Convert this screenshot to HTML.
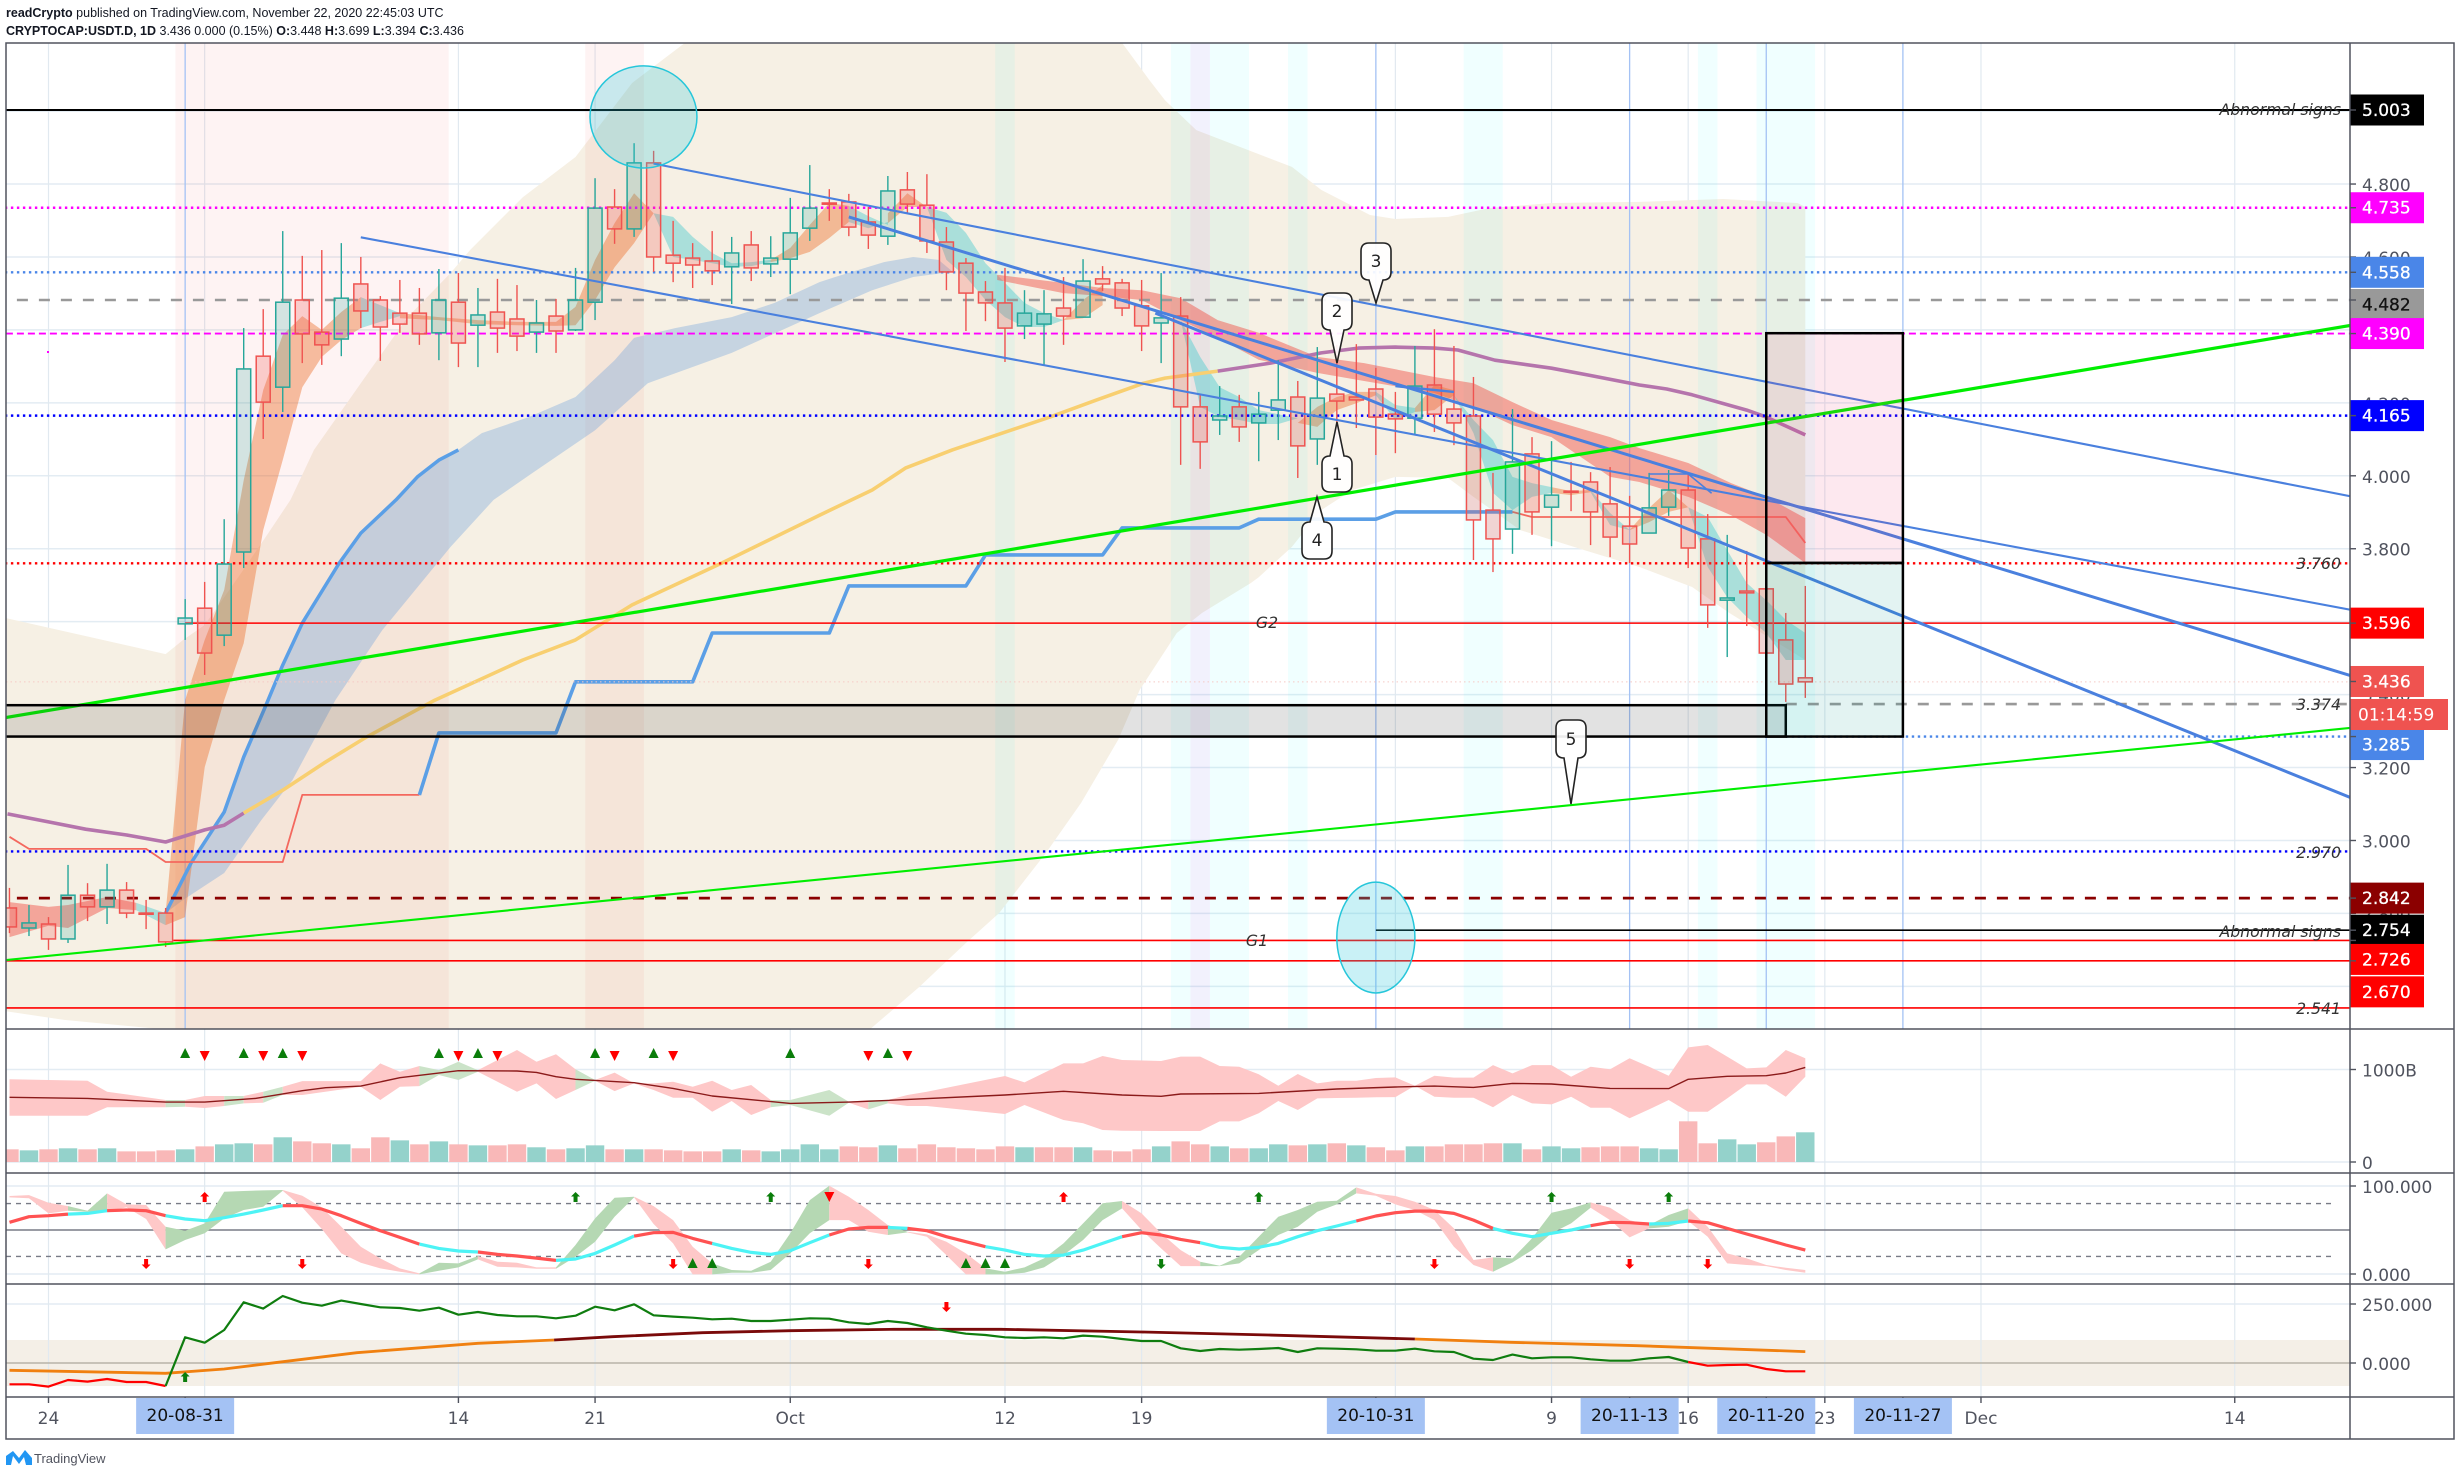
<!DOCTYPE html>
<html lang="en">
<head>
<meta charset="utf-8">
<title>CRYPTOCAP:USDT.D 1D chart</title>
<style>
html,body{margin:0;padding:0;background:#fff;width:2460px;height:1476px;overflow:hidden}
svg{display:block}
.ax{font-family:"DejaVu Sans",sans-serif;font-size:17px;fill:#50535e}
.note{font-family:"DejaVu Sans",sans-serif;font-size:15.7px;font-style:oblique;fill:#333}
.hd{font-family:"Liberation Sans",sans-serif;font-size:12.5px;fill:#131722}
.hd .b{font-weight:bold}
.bal{font-family:"DejaVu Sans",sans-serif;font-size:17px;fill:#222;text-anchor:middle}
</style>
</head>
<body>
<svg id="chart" xmlns="http://www.w3.org/2000/svg" width="2460" height="1476" viewBox="0 0 2460 1476">
<defs>
<clipPath id="clip-main"><rect x="6" y="43" width="2344" height="986"/></clipPath>
<clipPath id="clip-vol"><rect x="6" y="1030" width="2344" height="143"/></clipPath>
<clipPath id="clip-osc"><rect x="6" y="1174" width="2344" height="110"/></clipPath>
<clipPath id="clip-mom"><rect x="6" y="1285" width="2344" height="112"/></clipPath>
</defs>

<text class="hd" x="6" y="17"><tspan class="b">readCrypto</tspan> published on TradingView.com, November 22, 2020 22:45:03 UTC</text>
<text class="hd" x="6" y="35"><tspan class="b">CRYPTOCAP:USDT.D, 1D</tspan> 3.436 0.000 (0.15%) <tspan class="b">O:</tspan>3.448 <tspan class="b">H:</tspan>3.699 <tspan class="b">L:</tspan>3.394 <tspan class="b">C:</tspan>3.436</text>

<g id="layer-grid"></g>
<g id="layer-main-back" clip-path="url(#clip-main)"></g>
<g id="layer-main-series" clip-path="url(#clip-main)"></g>
<g id="layer-levels" clip-path="url(#clip-main)"></g>
<g id="layer-candles" clip-path="url(#clip-main)"></g>
<g id="layer-draw" clip-path="url(#clip-main)"></g>
<g id="layer-vol" clip-path="url(#clip-vol)"></g>
<g id="layer-osc" clip-path="url(#clip-osc)"></g>
<g id="layer-mom" clip-path="url(#clip-mom)"></g>

<g>
<g><path d="M1330 456 L1337 422 L1344 456 H1344 Q1352 456 1352 464 V484 Q1352 492 1344 492 H1330 Q1322 492 1322 484 V464 Q1322 456 1330 456 Z" fill="#fff" fill-opacity=".92" stroke="#222" stroke-width="1.6"/><text class="bal" x="1337" y="480">1</text></g>
<g><path d="M1330 293 H1344 Q1352 293 1352 301 V322 Q1352 330 1344 330 L1337 363 L1330 330 Q1322 330 1322 322 V301 Q1322 293 1330 293 Z" fill="#fff" fill-opacity=".92" stroke="#222" stroke-width="1.6"/><text class="bal" x="1337" y="317">2</text></g>
<g><path d="M1369 243 H1383 Q1391 243 1391 251 V272 Q1391 280 1383 280 L1376 303 L1369 280 Q1361 280 1361 272 V251 Q1361 243 1369 243 Z" fill="#fff" fill-opacity=".92" stroke="#222" stroke-width="1.6"/><text class="bal" x="1376" y="267">3</text></g>
<g><path d="M1310 522 L1317 497 L1324 522 Q1332 522 1332 530 V551 Q1332 559 1324 559 H1310 Q1302 559 1302 551 V530 Q1302 522 1310 522 Z" fill="#fff" fill-opacity=".92" stroke="#222" stroke-width="1.6"/><text class="bal" x="1317" y="546">4</text></g>
<g><path d="M1564 720 H1578 Q1586 720 1586 728 V750 Q1586 758 1578 758 L1571 804 L1564 758 Q1556 758 1556 750 V728 Q1556 720 1564 720 Z" fill="#fff" fill-opacity=".92" stroke="#222" stroke-width="1.6"/><text class="bal" x="1571" y="745">5</text></g>
</g>

<g>
<text class="note" x="1267" y="628" text-anchor="middle">G2</text>
<text class="note" x="1257" y="946" text-anchor="middle">G1</text>
<text class="note" x="2341" y="115" text-anchor="end">Abnormal signs</text>
<text class="note" x="2341" y="937" text-anchor="end">Abnormal signs</text>
<text class="note" x="2341" y="569" text-anchor="end">3.760</text>
<text class="note" x="2341" y="710" text-anchor="end">3.374</text>
<text class="note" x="2341" y="858" text-anchor="end">2.970</text>
<text class="note" x="2341" y="1014" text-anchor="end">2.541</text>
</g>

<g id="layer-axes"></g>

<g fill="none" stroke="#50535e" stroke-width="1.5">
<rect x="6" y="43" width="2448" height="1396"/>
<line x1="2350" y1="43" x2="2350" y2="1439"/>
<line x1="6" y1="1029" x2="2454" y2="1029"/>
<line x1="6" y1="1173" x2="2454" y2="1173"/>
<line x1="6" y1="1284" x2="2454" y2="1284"/>
<line x1="6" y1="1397" x2="2454" y2="1397"/>
</g>

<g>
<path d="M6 1465 V1456 L13 1451 L19 1458 L25 1450 L32 1458 V1465 H26 L24 1457 L19 1464 L13 1456 L11 1465 Z" fill="#2196f3"/>
<text x="34" y="1463" font-family="'Liberation Sans',sans-serif" font-size="13" fill="#50535e">TradingView</text>
</g>
</svg>

<script>
/* ---------- chart data ---------- */
const firstDay = -2; /* days since 24 Aug 2020 */
const opens = [2.815,2.760,2.771,2.730,2.850,2.818,2.864,2.801,2.801,3.594,3.637,3.563,3.791,4.328,4.243,4.482,4.394,4.375,4.526,4.482,4.446,4.446,4.392,4.476,4.413,4.449,4.430,4.394,4.438,4.400,4.476,4.737,4.677,4.858,4.605,4.597,4.589,4.573,4.633,4.581,4.594,4.679,4.748,4.751,4.696,4.657,4.784,4.742,4.641,4.583,4.504,4.474,4.411,4.416,4.460,4.435,4.540,4.529,4.466,4.419,4.438,4.189,4.153,4.189,4.145,4.180,4.216,4.101,4.224,4.216,4.238,4.169,4.158,4.249,4.183,4.164,3.906,3.854,4.060,3.914,3.958,3.983,3.923,3.862,3.843,3.914,3.961,3.827,3.659,3.684,3.690,3.550,3.446];
const closes = [2.763,2.774,2.730,2.850,2.818,2.864,2.801,2.798,2.722,3.610,3.514,3.758,4.293,4.202,4.476,4.389,4.359,4.487,4.452,4.408,4.416,4.389,4.482,4.364,4.441,4.405,4.383,4.419,4.397,4.482,4.734,4.677,4.858,4.600,4.583,4.578,4.562,4.611,4.570,4.597,4.666,4.734,4.745,4.682,4.660,4.781,4.745,4.644,4.559,4.501,4.474,4.405,4.446,4.444,4.438,4.534,4.526,4.460,4.411,4.433,4.189,4.093,4.164,4.134,4.169,4.208,4.082,4.213,4.205,4.208,4.161,4.156,4.246,4.169,4.145,3.879,3.827,4.038,3.901,3.947,3.956,3.901,3.832,3.813,3.912,3.961,3.802,3.646,3.665,3.679,3.514,3.429,3.435];
const highs = [2.870,2.823,2.790,2.933,2.883,2.936,2.886,2.837,2.815,3.662,3.709,3.881,4.405,4.457,4.671,4.603,4.619,4.638,4.600,4.493,4.537,4.515,4.567,4.556,4.515,4.540,4.523,4.482,4.485,4.570,4.816,4.786,4.912,4.891,4.699,4.638,4.671,4.655,4.671,4.657,4.762,4.852,4.786,4.773,4.737,4.822,4.833,4.827,4.682,4.597,4.534,4.570,4.509,4.509,4.545,4.594,4.575,4.540,4.537,4.556,4.490,4.222,4.246,4.222,4.230,4.317,4.260,4.353,4.359,4.361,4.296,4.230,4.356,4.402,4.356,4.271,4.008,4.183,4.106,4.095,4.038,4.010,4.024,3.945,4.008,4.016,4.010,3.895,3.838,3.794,3.722,3.624,3.698];
const lows = [2.746,2.738,2.700,2.719,2.779,2.771,2.787,2.757,2.708,3.550,3.454,3.533,3.747,4.101,4.175,4.309,4.304,4.328,4.405,4.315,4.392,4.359,4.317,4.298,4.298,4.337,4.342,4.337,4.337,4.397,4.427,4.636,4.655,4.559,4.531,4.515,4.523,4.471,4.534,4.545,4.498,4.644,4.699,4.657,4.622,4.633,4.721,4.611,4.509,4.397,4.424,4.312,4.375,4.304,4.359,4.435,4.507,4.438,4.342,4.309,4.030,4.019,4.112,4.093,4.040,4.098,3.994,4.030,4.098,4.131,4.057,4.062,4.112,4.120,4.084,3.769,3.736,3.786,3.838,3.807,3.903,3.810,3.777,3.761,3.843,3.890,3.747,3.583,3.503,3.588,3.462,3.380,3.391];

const volumes = [137,126,137,148,137,148,115,115,126,137,169,191,202,191,267,223,202,191,148,267,234,191,223,191,180,180,191,159,137,148,180,137,137,137,126,115,115,137,126,115,137,191,137,169,159,180,148,191,159,148,137,169,159,159,159,159,126,115,137,169,223,191,169,148,148,191,180,191,202,180,159,126,169,169,191,191,202,202,137,169,148,159,169,169,148,137,440,202,245,191,213,277,321];
const volumeUp = [0,1,0,1,0,1,0,0,0,1,0,1,1,0,1,0,0,1,0,0,1,0,1,0,1,0,0,1,0,1,1,0,1,0,0,0,0,1,0,1,1,1,1,0,0,1,0,0,0,0,0,0,1,0,0,1,0,0,0,1,0,0,1,0,1,1,0,1,0,1,0,0,1,0,0,0,0,1,0,1,1,0,0,0,1,1,0,0,1,1,0,0,1];

const cloudUpperDays = [-2.2,6,6.9,8,9.8,11.2,12.4,13.6,16,18.4,20.6,21.6,24.3,27,29.9,32.6,55,56.4,57.2,58.8,63.7,65.2,67.7,69,71.7,73.8,77,81.5,85.8,89.6,90];
const cloudUpper = [3.610,3.511,3.550,3.591,3.728,3.838,3.934,4.071,4.254,4.435,4.556,4.619,4.764,4.874,5.077,5.187,5.187,5.085,5.030,4.948,4.847,4.784,4.715,4.704,4.710,4.734,4.748,4.751,4.759,4.748,4.737];
const cloudLowerDays = [-2.2,0.8,5.7,42.1,44.6,47,48.7,51.1,52.9,54.8,55.9,57.8,59.1,61.6,62,63.7,65.2,66.8,69,71.7,73,75.4,78.7,81.5,84.2,86.1,90];
const cloudLower = [2.532,2.508,2.483,2.483,2.598,2.719,2.801,2.966,3.103,3.276,3.413,3.569,3.624,3.706,3.722,3.805,3.906,3.961,3.997,3.994,3.942,3.851,3.796,3.750,3.695,3.624,3.495];

const earlyDays=[-2,0,1,3,4.5], earlyUp=[2.831,2.818,2.823,2.845,2.829], earlyLow=[2.735,2.766,2.760,2.815,2.809];
const tealADays=[4.5,6], tealAUp=[2.829,2.801], tealALow=[2.809,2.768];
const orangeADays=[6,7,8,9,10,11,12,13,14,15,16], orangeAUp=[2.801,3.385,3.550,3.687,3.988,4.235,4.386,4.438,4.400,4.449,4.490], orangeALow=[2.768,2.790,3.201,3.385,3.541,3.851,4.043,4.243,4.326,4.372,4.405];
const tealBDays=[16,17,18], tealBUp=[4.490,4.468,4.446], tealBLow=[4.405,4.422,4.438];
const orangeBDays=[18,20,22,24,26], orangeBUp=[4.446,4.435,4.427,4.422,4.422], orangeBLow=[4.432,4.427,4.416,4.413,4.411];
const orangeCDays=[26,27,28,29,30,31], orangeCUp=[4.422,4.463,4.592,4.693,4.775,4.720], orangeCLow=[4.411,4.413,4.482,4.572,4.638,4.720];
const tealCDays=[31,32,33,34,35,36,37], tealCUp=[4.720,4.710,4.655,4.611,4.583,4.586,4.592], tealCLow=[4.720,4.600,4.592,4.583,4.573,4.575,4.586];
const orangeDDays=[37,38,39,40,41], orangeDUp=[4.592,4.625,4.688,4.748,4.740], orangeDLow=[4.586,4.597,4.614,4.652,4.696];
const tealDDays=[41,42,43], tealDUp=[4.740,4.712,4.688], tealDLow=[4.696,4.679,4.696];
const orangeEDays=[43,44,45], orangeEUp=[4.720,4.775,4.737], orangeELow=[4.693,4.737,4.737];
const tealEDays=[45,46,47,48,49,50,51,52], tealEUp=[4.737,4.721,4.666,4.583,4.529,4.474,4.446,4.427], tealELow=[4.737,4.592,4.545,4.482,4.435,4.408,4.408,4.427];
const orangeFDays=[52,53,54], orangeFUp=[4.427,4.482,4.523], orangeFLow=[4.427,4.432,4.468];
const redDays=[48.6,52,54,56,58,59.9,62,65,67.4,71,73,75,77,80,81.5,84,86.2,88,90];
const redUp=[4.551,4.529,4.515,4.509,4.487,4.427,4.392,4.326,4.309,4.271,4.254,4.202,4.153,4.106,4.076,4.035,3.980,3.942,3.884];
const redLow=[4.537,4.501,4.493,4.482,4.427,4.378,4.318,4.282,4.260,4.227,4.189,4.139,4.106,3.997,3.983,3.942,3.892,3.838,3.761];
const tealFDays=[58,59,60,61,62,63,64], tealFUp=[4.427,4.326,4.243,4.216,4.180,4.169,4.158], tealFLow=[4.427,4.189,4.161,4.153,4.142,4.142,4.158];
const orangeGDays=[64,65,66,67,68], orangeGUp=[4.145,4.189,4.216,4.230,4.230], orangeGLow=[4.145,4.134,4.180,4.199,4.221];
const tealGDays=[68,69,70], tealGUp=[4.230,4.194,4.186], tealGLow=[4.221,4.153,4.175];
const orangeHDays=[70,71,72], orangeHUp=[4.186,4.249,4.235], orangeHLow=[4.175,4.180,4.221];
const tealHDays=[72,73,74,75,76,77], tealHUp=[4.221,4.153,4.098,3.997,3.980,3.969], tealHLow=[4.221,4.117,3.953,3.906,3.942,3.953];
const orangeIDays=[77,78,79], orangeIUp=[3.969,3.958,3.961], orangeILow=[3.953,3.947,3.955];
const tealIDays=[79,80,81], tealIUp=[3.961,3.898,3.851], tealILow=[3.955,3.865,3.851];
const orangeJDays=[81,82,83,84], orangeJUp=[3.851,3.912,3.961,3.914], orangeJLow=[3.851,3.873,3.901,3.914];
const tealJDays=[84,85,86,87,88,89,90], tealJUp=[3.914,3.887,3.796,3.706,3.659,3.605,3.569], tealJLow=[3.914,3.750,3.667,3.613,3.569,3.495,3.495];

const slowUpDays=[6,7.3,9,10,11.1,12,13,14.9,16,17.8,18.9,20,21,22.2,24.6,27,29,30,32.1,35,37.2,39.5,40.3,42.8,44.3,45.6,46.4];
const slowUp=[2.801,2.938,3.078,3.229,3.366,3.481,3.596,3.761,3.843,3.934,3.997,4.043,4.071,4.117,4.161,4.216,4.317,4.378,4.405,4.435,4.474,4.531,4.545,4.586,4.600,4.592,4.556];
const slowLowDays=[6,6.9,9,10.9,12.5,14.7,17.1,20.6,22.8,24.8,28,30.7,35,39.5,42.2,44.3,46.3];
const slowLow=[2.801,2.837,2.911,3.056,3.166,3.385,3.577,3.805,3.934,4.008,4.125,4.254,4.337,4.446,4.509,4.545,4.559];
const maBlueDays=[6,7.3,9,10,11.1,12,13,14.9,16,17.8,18.9,20,21];
const maBlue=[2.801,2.938,3.078,3.229,3.366,3.481,3.596,3.761,3.843,3.934,3.997,4.043,4.071];

const purpleADays=[-2.1,0,1.9,4,6,8,9,10], purpleA=[3.073,3.051,3.031,3.015,2.996,3.029,3.042,3.075];
const yellowDays=[10,12,14.1,16.3,19.8,24.3,27,29.9,34.5,39.5,42.2,43.9,46.3,51.3,53.7,56.1,57.2,59.9];
const yellow=[3.075,3.138,3.212,3.284,3.385,3.495,3.550,3.646,3.761,3.892,3.961,4.021,4.071,4.161,4.208,4.254,4.268,4.287];
const purpleBDays=[59.9,62.6,65.2,67.1,69,71,72.2,74.1,77,78.9,81.5,82.9,84.2,87,88,90];
const purpleB=[4.287,4.309,4.337,4.350,4.353,4.350,4.345,4.317,4.295,4.276,4.249,4.238,4.222,4.180,4.161,4.112];

const baseRedADays=[-2,-1,5,6,12,13,19], baseRedA=[3.010,2.977,2.977,2.941,2.941,3.125,3.125];
const baseBlueDays=[19,20,26,27,33,34,40,41,47,48,54,55,61,62,68,69,75];
const baseBlue=[3.125,3.295,3.295,3.435,3.435,3.569,3.569,3.698,3.698,3.783,3.783,3.857,3.857,3.881,3.881,3.901,3.901];
const baseRedBDays=[75,76,89,90], baseRedB=[3.901,3.887,3.887,3.816];

const levelPrices=[5.003,4.735,4.558,4.482,4.390,4.165,3.760,3.596,3.374,3.285,2.970,2.842,2.754,2.726,2.670,2.541];
const levelStartDays=[-5,-5,-5,-5,-5,-5,-5,7,89,89,-5,-5,68,6.4,-5,-5];

const trendDaysA=[31,118], trendPricesA=[4.856,3.943];
const trendDaysB=[16,118], trendPricesB=[4.654,3.632];
const trendDaysC=[41,118], trendPricesC=[4.710,3.451];
const trendDaysD=[56.7,118], trendPricesD=[4.446,3.116];
const trendDaysE=[69,72], trendPricesE=[4.246,4.230];
const trendDaysF=[82,84,85.2], trendPricesF=[4.005,4.005,3.952];
const greenThickDays=[-2.2,118], greenThick=[3.337,4.413];
const greenThinDays=[-2.2,118], greenThin=[2.672,3.309];

const priceTicks=[4.8,4.6,4.2,4.0,3.8,3.4,3.2,3.0,2.8,2.6];
const gridPrices=[5.0,4.8,4.6,4.4,4.2,4.0,3.8,3.6,3.4,3.2,3.0,2.8,2.6];
const gridDays=[0,8,21,28,38,49,56,69,77,84,91,99,112];
const drawnVerticalDays=[7,68,81,88,95];
const timeTickDays=[0,7,21,28,38,49,56,68,77,81,84,88,91,95,99,112];
const dateLabelDays=[0,21,28,38,49,56,77,84,91,99,112];
const dateLabels=["24","14","21","Oct","12","19","9","16","23","Dec","14"];
const pillDays=[7,68,81,88,95];
const pillLabels=["20-08-31","20-10-31","20-11-13","20-11-20","20-11-27"];
const tagPrices=[5.003,4.735,4.558,4.482,4.390,4.165,3.596,3.436,3.285,2.842,2.754,2.726,2.670];

const bandDays=[-2,2,3,6,7,8,9,10,11,12,13,16,17,18,19,20,21,22,24,25,26,27,28,29,30,31,32,33,34,35,36,37,38,40,41,42,43,44,45,49,50,52,53,54,55,57,58,59,60,61,62,63,64,65,66,67,68,69,70,71,72,73,74,75,76,77,78,79,80,81,82,83,84,85,86,87,88,89,90];
const bandUpper=[894,879,760,670,670,713,713,713,760,814,875,875,1066,976,1038,994,1084,994,1211,1084,1164,1002,886,966,850,850,868,814,879,778,832,670,670,778,652,670,670,724,760,930,861,1066,1066,1146,1103,1092,1139,1139,1038,1030,948,825,951,850,879,879,908,915,825,933,912,912,1048,958,1048,1048,922,1030,1002,1121,1030,933,1239,1265,1139,1012,1023,1211,1121];
const bandLower=[501,501,591,591,598,584,605,634,641,724,724,814,670,814,821,940,886,976,760,850,681,778,879,767,850,778,695,695,544,659,508,591,616,501,641,569,634,605,605,519,616,454,418,346,338,335,335,335,439,439,526,659,562,688,692,695,699,702,825,706,695,695,591,724,634,623,706,587,587,472,569,670,544,544,688,839,839,706,922];
const bandFlips=[6,7,9,10,11,12,19,22,27,28,37,41,42,43];
const bandMidDays=[-2,2,6,8,10.6,13,14.2,16,18,21,24,25,26,27,30,32,34,38,41,43,49,52,55,57,58,62,66,69,71,73,75,77,80,83,84,86,88,89,90];
const bandMid=[699,688,648,648,688,771,803,821,911,987,984,969,922,894,857,796,713,634,648,666,724,764,724,710,735,742,789,811,821,807,850,843,796,793,894,926,933,962,1023];
const volGreenMarkDays=[7,10,12,20,22,28,31,38,43];
const volRedMarkDays=[8,11,13,21,23,29,32,42,44];

const oscLine=[58.7,65.1,66.2,68.1,68.9,71.9,72.7,71.9,66.2,62.5,60.6,64,68.1,72.7,77.6,77.6,73.8,66.2,57.5,49.2,41.6,34,29.1,26.1,25,22.3,20.4,18.1,15.5,17,23.4,32.9,43.1,46.9,47.3,40.5,34.8,29.1,24.6,22.3,26.5,35.6,44.3,51.1,53,53,51.8,49.2,42.4,36.7,31,27.2,22.3,20.4,21.5,27.2,34.8,42.4,46.9,44.3,39.3,35.6,30.3,28.4,30.3,34.8,42.4,49.2,54.5,60.2,65.9,69.7,71.5,71.5,68.9,61.3,51.8,46.2,42.4,46.2,50,54.9,58.7,58.3,56.8,57.5,60.2,58.3,51.8,45.4,39.3,32.9,27.2];
const oscUpper=[88.6,89.7,81,77.2,71.9,91.6,79.1,78.4,53.7,49.2,57.5,93.5,94.3,95,95.4,89,75.7,53.7,31,17.7,6.4,0.7,12.8,12.1,20.4,14,12.8,7.5,7.5,32.9,63.2,86.7,87.8,77.2,61.3,31,12.1,4.5,3.7,14,46.2,84,100.3,87.8,72.7,55.6,48.1,45,36.7,23.4,6.4,2.6,7.5,17.7,34.8,57.5,80.3,82.9,68.9,46.2,27.2,14,9.4,19.6,42.4,65.1,72.7,82.2,83.3,98.4,91.2,88.6,82.2,72.7,51.8,15.9,18.9,17.7,40.5,69.7,74.6,81.4,75.3,61.3,55.6,67,74.6,53.7,23.4,17.7,10.2,7.1,4.5];
const oscLower=[87.1,86,68.9,71.9,70.8,71.5,75.7,62.5,28,38.6,46.2,63.2,72.7,76.5,94.7,75.7,51.1,23.4,12.8,6.4,2.6,-0.4,3.7,7.5,16.6,8.3,7.5,6,6,19.6,36.7,65.1,87.1,56.8,34.8,-0.4,-0.4,1.5,1.5,4.5,23.4,46.2,61.3,61.3,48.1,44.3,47.3,42.4,21.5,-0.4,-0.4,-0.4,1.5,7.5,21.5,38.6,61.3,74.6,50,29.1,9,9,9,12.1,27.2,44.3,53.7,70.8,79.1,91.6,89,79.1,72.7,61.3,31,10.2,2.6,13.2,27.2,46.2,57.5,75.3,61.3,41.6,51.8,53.7,60.2,42.4,12.1,10.2,9,4.5,1.5];
const oscFlips=[1,3,6,12,19,22,26,30,34,40,43,44,48,55,59,67,74,79,82,84];
const oscRedUpArrowDays=[8,52];
const oscGreenUpArrowDays=[27,37,62,77,83];
const oscRedDownArrowDays=[5,13,32,42,71,81,85];
const oscGreenDownArrowDays=[57];
const oscGreenTriangleDays=[33,34,47,48,49];
const oscRedTriangleDays=[40];
const oscGuideValues=[80,50,20];

const momLine=[-90.3,-90.3,-100.2,-72,-79,-67.7,-80.4,-80.4,-97.4,108.8,86.2,139.9,257.1,230.3,283.9,255.7,243,264.2,250.1,235.9,233.1,221.8,234.5,204.8,216.1,203.4,197.8,197.8,189.3,200.6,238.7,223.2,248.6,202,196.4,192.1,185,187.9,178,178,183.6,189.3,187.9,172.4,165.3,178,169.5,151.2,137,124.3,118.7,108.8,106,108.8,104.6,115.9,111.6,101.7,93.3,93.3,62.2,50.9,59.3,56.5,59.3,63.6,46.7,62.2,60.8,58,52.3,52.3,60.8,49.5,46.7,18.4,12.7,35.4,19.8,24,24,15.6,9.9,9.9,19.8,25.5,4.3,-11.3,-8.5,-7.1,-25.4,-35.3,-35.3];
const momFlips=[6,84];
const momSlowDays=[-2,6,9,11.6,15.8,22,25.9,28.9,33.5,38,43.3,48.8,56,62.5,70,74.9,81.4,90];
const momSlow=[-31,-43.7,-25.4,1.4,43.8,83.4,97.5,111.6,128.6,137,142.7,142.7,131.4,118.7,101.7,87.6,73.5,48.1];
const momSlowFlips=[25.9,70];
const momGreenArrowDays=[7];
const momRedArrowDays=[46];

/* ---------- scales ---------- */
const xd = d => 48.5 + 19.52*d;
const yp = p => 110 + (5.003-p)*364.7;
const yv = v => 1162 - 0.0925*v;
const yo = v => 1274 - 0.88*v;
const ym = v => 1363 - 0.236*v;
const $ = id => document.getElementById(id);
const NS = "http://www.w3.org/2000/svg";

function add(parent, tag, name, attrs){
  const el = document.createElementNS(NS, tag);
  
  
  for (const k in attrs) el.setAttribute(k, attrs[k]);
  parent.appendChild(el);
  return el;
}
function pts(days, vals, fy){ return days.map((d,i)=>xd(d).toFixed(1)+','+fy(vals[i]).toFixed(1)); }
function line(parent, name, days, vals, fy, color, w, extra){
  return add(parent,'polyline',name,Object.assign({points:pts(days,vals,fy).join(' '),fill:'none',stroke:color,'stroke-width':w,'stroke-linejoin':'round'},extra||{}));
}
function band(parent, name, dU, U, dL, L, fy, fill){
  const p = pts(dU,U,fy).concat(pts(dL,L,fy).reverse());
  return add(parent,'polygon',name,{points:p.join(' '),fill:fill});
}
function runs(days, flips){
  const cuts=[days[0]].concat(flips,[days[days.length-1]]);
  return cuts.slice(0,-1).map((a,i)=>[a,cuts[i+1],i%2]);
}
function slice(days, vals, a, b){
  const ds=[],vs=[];
  days.forEach((d,i)=>{ if(d>=a-1e-6&&d<=b+1e-6){ds.push(d);vs.push(vals[i]);} });
  return [ds,vs];
}
function tri(parent,name,d,y,up,color){
  const x=xd(d);
  const p = up ? `${x-5},${y+5} ${x},${y-5} ${x+5},${y+5}` : `${x-5},${y-5} ${x+5},${y-5} ${x},${y+5}`;
  return add(parent,'polygon',name,{points:p,fill:color});
}
function arrow(parent,name,d,y,up,color){
  const x=xd(d), s=up?1:-1;
  const p=`${x},${y-5*s} ${x+4.5},${y-0.5*s} ${x+2},${y-0.5*s} ${x+2},${y+5*s} ${x-2},${y+5*s} ${x-2},${y-0.5*s} ${x-4.5},${y-0.5*s}`;
  return add(parent,'polygon',name,{points:p,fill:color});
}

/* ---------- grid ---------- */
const grid=$('layer-grid');
gridPrices.forEach(p=>add(grid,'line','grid-horizontal',{x1:6,x2:2350,y1:yp(p),y2:yp(p),stroke:'#e3ecf3','stroke-width':1.5}));
[1000,0].forEach(v=>add(grid,'line','grid-volume',{x1:6,x2:2350,y1:yv(v),y2:yv(v),stroke:'#e3ecf3','stroke-width':1.5}));
[100,0].forEach(v=>add(grid,'line','grid-oscillator',{x1:6,x2:2350,y1:yo(v),y2:yo(v),stroke:'#e3ecf3','stroke-width':1.5}));
add(grid,'line','grid-momentum',{x1:6,x2:2350,y1:ym(250),y2:ym(250),stroke:'#e3ecf3','stroke-width':1.5});
add(grid,'rect','momentum-neutral-zone',{x:6,y:1340,width:2344,height:46,fill:'#f4efe7'});
gridDays.forEach(d=>add(grid,'line','grid-vertical',{x1:xd(d),x2:xd(d),y1:43,y2:1397,stroke:'#e1e9f0','stroke-width':1.2}));

/* ---------- main background ---------- */
const back=$('layer-main-back');
band(back,'cloud',cloudUpperDays,cloudUpper,cloudLowerDays,cloudLower,yp,'#f6f0e4');
const stripePink='rgba(245,90,80,.07)', stripeCyan='rgba(0,255,255,.06)', stripeLav='rgba(70,60,230,.07)';
function stripe(a,b,fill,name){ add(back,'rect',name,{x:xd(a),y:43,width:xd(b)-xd(a),height:986,fill:fill}); }
stripe(6.5,20.5,stripePink,'stripe-pink');
stripe(27.5,30.5,stripePink,'stripe-pink');
[[48.5,49.5],[57.5,58.5],[59.5,61.5],[63.5,64.5],[72.5,74.5],[84.5,85.5],[87.5,90.5]].forEach(s=>stripe(s[0],s[1],stripeCyan,'stripe-cyan'));
stripe(58.5,59.5,stripeLav,'stripe-lavender');
drawnVerticalDays.forEach(d=>add(back,'line','drawn-vertical-line',{x1:xd(d),x2:xd(d),y1:43,y2:1029,stroke:'#a4c2f4','stroke-width':1.3}));

/* ---------- ribbons and moving averages ---------- */
const ms=$('layer-main-series');
const cOrange='rgba(235,110,40,.42)', cTeal='rgba(64,200,205,.42)', cRed='rgba(240,90,80,.5)';
band(ms,'slow-ribbon',slowUpDays,slowUp,slowLowDays,slowLow,yp,'rgba(110,160,220,.35)');
[[earlyDays,earlyUp,earlyLow,cRed],[tealADays,tealAUp,tealALow,cTeal],[orangeADays,orangeAUp,orangeALow,cOrange],[tealBDays,tealBUp,tealBLow,cTeal],[orangeBDays,orangeBUp,orangeBLow,cOrange],[orangeCDays,orangeCUp,orangeCLow,cOrange],[tealCDays,tealCUp,tealCLow,cTeal],[orangeDDays,orangeDUp,orangeDLow,cOrange],[tealDDays,tealDUp,tealDLow,cTeal],[orangeEDays,orangeEUp,orangeELow,cOrange],[tealEDays,tealEUp,tealELow,cTeal],[orangeFDays,orangeFUp,orangeFLow,cOrange],[redDays,redUp,redLow,cRed],[tealFDays,tealFUp,tealFLow,cTeal],[orangeGDays,orangeGUp,orangeGLow,cOrange],[tealGDays,tealGUp,tealGLow,cTeal],[orangeHDays,orangeHUp,orangeHLow,cOrange],[tealHDays,tealHUp,tealHLow,cTeal],[orangeIDays,orangeIUp,orangeILow,cOrange],[tealIDays,tealIUp,tealILow,cTeal],[orangeJDays,orangeJUp,orangeJLow,cOrange],[tealJDays,tealJUp,tealJLow,cTeal]]
  .forEach(r=>band(ms,'fast-ribbon-segment',r[0],r[1],r[0],r[2],yp,r[3]));
line(ms,'fast-ma-line',maBlueDays,maBlue,yp,'#5b9fe6',3.5);
line(ms,'long-ma-purple',purpleADays,purpleA,yp,'#b574ac',3.6);
line(ms,'long-ma-yellow',yellowDays,yellow,yp,'#f8cf70',3.6);
line(ms,'long-ma-purple',purpleBDays,purpleB,yp,'#b574ac',3.6);
line(ms,'baseline-red',baseRedADays,baseRedA,yp,'#f4685e',1.8);
line(ms,'baseline-blue',baseBlueDays,baseBlue,yp,'#5b9fe6',3.6);
line(ms,'baseline-red',baseRedBDays,baseRedB,yp,'#f4685e',1.8);

/* ---------- price levels ---------- */
const levelStroke=['#000','#ff00ff','#4a86e8','#999','#ff00ff','#0000ff','#ff0000','#ff0000','#999','#4a86e8','#0000ff','#8b0000','#000','#ff0000','#ff0000','#ff0000'];
const levelWidth=[2,2.4,2.4,2.6,1.8,2.4,2.4,1.6,2.6,2.4,2.4,2.8,1.6,1.6,1.6,1.6];
const levelDash=['','2.4 3.6','2.4 3.6','11 11','7 4','2.4 3.6','2.4 3.6','','11 11','2.4 3.6','2.4 3.6','11 11','','','',''];
const lv=$('layer-levels');
levelPrices.forEach((p,i)=>{
  const el=add(lv,'line','price-level-line',{x1:xd(levelStartDays[i]),x2:2350,y1:yp(p),y2:yp(p),stroke:levelStroke[i],'stroke-width':levelWidth[i]});
  if(levelDash[i]) el.setAttribute('stroke-dasharray',levelDash[i]);
});
add(lv,'line','last-price-line',{x1:6,x2:2350,y1:yp(closes[closes.length-1]),y2:yp(closes[closes.length-1]),stroke:'#f5c9c5','stroke-width':1,'stroke-dasharray':'1.5 3'});
add(lv,'rect','stray-marker',{x:47,y:351,width:2,height:2,fill:'#ff00ff'});

/* ---------- candles ---------- */
const cg=$('layer-candles');
opens.forEach((o,i)=>{
  const d=firstDay+i, c=closes[i], up=c>=o;
  const col=up?'#26a69a':'#ef5350', fill=up?'rgba(38,166,154,.2)':'rgba(239,83,80,.25)';
  const x=xd(d), top=yp(Math.max(o,c)), bot=yp(Math.min(o,c));
  add(cg,'line','candle-wick',{x1:x,x2:x,y1:yp(highs[i]),y2:top,stroke:col,'stroke-width':1.4});
  add(cg,'line','candle-wick',{x1:x,x2:x,y1:bot,y2:yp(lows[i]),stroke:col,'stroke-width':1.4});
  add(cg,'rect','candle-body',{x:x-7,y:top,width:14,height:Math.max(bot-top,1.2),fill:fill,stroke:col,'stroke-width':1.5});
});

/* ---------- drawings ---------- */
const dr=$('layer-draw');
const tBlue='#4a80de';
line(dr,'trendline-upper',trendDaysA,trendPricesA,yp,tBlue,2.1);
line(dr,'trendline-lower',trendDaysB,trendPricesB,yp,tBlue,2.1);
line(dr,'trendline-thick-a',trendDaysC,trendPricesC,yp,tBlue,3);
line(dr,'trendline-thick-b',trendDaysD,trendPricesD,yp,tBlue,3);
line(dr,'trendline-short-a',trendDaysE,trendPricesE,yp,tBlue,2.4);
line(dr,'trendline-short-b',trendDaysF,trendPricesF,yp,tBlue,1.6);
line(dr,'support-line-thick',greenThickDays,greenThick,yp,'#00ee00',3.2);
line(dr,'support-line-thin',greenThinDays,greenThin,yp,'#00ee00',2.1);
function box(name,d1,p1,d2,p2,fill){
  add(dr,'rect',name,{x:xd(d1),y:yp(p1),width:xd(d2)-xd(d1),height:yp(p2)-yp(p1),fill:fill,stroke:'#000','stroke-width':2.5});
}
const boxTop=[4.391,3.761], boxBottom=[3.761,3.285];
box('range-box-grey',-5,3.371,89,3.285,'rgba(60,60,60,.15)');
box('risk-box-pink',88,boxTop[0],95,boxBottom[0],'rgba(233,30,99,.1)');
box('reward-box-teal',88,boxTop[1],95,boxBottom[1],'rgba(0,150,136,.11)');
function oval(name,d,p,rd,rp){
  add(dr,'ellipse',name,{cx:xd(d),cy:yp(p),rx:rd*19.52,ry:rp*364.7,fill:'rgba(38,198,218,.25)',stroke:'#26c6da','stroke-width':1.5});
}
oval('highlight-ellipse-top',30.48,4.984,2.74,0.14);
oval('highlight-ellipse-bottom',68,2.734,2,0.152);

/* ---------- volume pane ---------- */
const vg=$('layer-vol');
const bandColors=['#fec8c8','#cbe3c8'];
volumes.forEach((v,i)=>{
  const x=xd(firstDay+i);
  add(vg,'rect','volume-bar',{x:x-9.2,y:yv(v),width:18.4,height:yv(0)-yv(v),fill:volumeUp[i]?'#94d2cb':'#f9b8b8'});
});
runs(bandDays,bandFlips).forEach(r=>{
  const u=slice(bandDays,bandUpper,r[0],r[1]), l=slice(bandDays,bandLower,r[0],r[1]);
  band(vg,'volume-band-segment',u[0],u[1],l[0],l[1],yv,bandColors[r[2]]);
});
line(vg,'volume-band-midline',bandMidDays,bandMid,yv,'#8b1a1a',1.4);
volGreenMarkDays.forEach(d=>tri(vg,'buy-marker',d,1053,true,'#0a7d0a'));
volRedMarkDays.forEach(d=>tri(vg,'sell-marker',d,1056,false,'#ff0000'));

/* ---------- oscillator pane ---------- */
const og=$('layer-osc');
const allDays=oscLine.map((_,i)=>firstDay+i);
oscGuideValues.forEach((v,i)=>{
  const el=add(og,'line','oscillator-guide',{x1:6,x2:i===1?2350:2335,y1:yo(v),y2:yo(v),stroke:'#787b86','stroke-width':1.4});
  if(i!==1) el.setAttribute('stroke-dasharray','5 5');
});
const oscBandColors=['#fec8c8','#b5d8b3'];
runs(allDays,oscFlips).forEach(r=>{
  const u=slice(allDays,oscUpper,r[0],r[1]), l=slice(allDays,oscLower,r[0],r[1]);
  band(og,'oscillator-band-segment',u[0],u[1],l[0],l[1],yo,oscBandColors[r[2]]);
});
const oscLineColors=['#ff5252','#4df3f5'];
runs(allDays,oscFlips).forEach(r=>{
  const s=slice(allDays,oscLine,r[0],r[1]);
  line(og,'oscillator-line-segment',s[0],s[1],yo,oscLineColors[r[2]],3.2);
});
oscRedUpArrowDays.forEach(d=>arrow(og,'oscillator-arrow-red-up',d,1197,true,'#ff0000'));
oscGreenUpArrowDays.forEach(d=>arrow(og,'oscillator-arrow-green-up',d,1197,true,'#0a7d0a'));
oscRedDownArrowDays.forEach(d=>arrow(og,'oscillator-arrow-red-down',d,1264,false,'#ff0000'));
oscGreenDownArrowDays.forEach(d=>arrow(og,'oscillator-arrow-green-down',d,1264,false,'#0a7d0a'));
oscGreenTriangleDays.forEach(d=>tri(og,'oscillator-triangle-green',d,1263,true,'#0a7d0a'));
oscRedTriangleDays.forEach(d=>tri(og,'oscillator-triangle-red',d,1197,false,'#ff0000'));

/* ---------- momentum pane ---------- */
const mg=$('layer-mom');
add(mg,'line','momentum-zero-line',{x1:6,x2:2350,y1:ym(0),y2:ym(0),stroke:'#b8b4a8','stroke-width':1.4});
const slowColors=['#f08010','#7a0a0a','#f08010'];
runs(momSlowDays,momSlowFlips).forEach((r,i)=>{
  const s=slice(momSlowDays,momSlow,r[0],r[1]);
  line(mg,'momentum-slow-segment',s[0],s[1],ym,slowColors[i],2.8);
});
const momColors=['#ff0000','#0f7d0f','#ff0000'];
runs(allDays,momFlips).forEach((r,i)=>{
  const s=slice(allDays,momLine,r[0],r[1]);
  line(mg,'momentum-line-segment',s[0],s[1],ym,momColors[i],2.2);
});
momGreenArrowDays.forEach(d=>arrow(mg,'momentum-arrow-green',d,1377,true,'#0a7d0a'));
momRedArrowDays.forEach(d=>arrow(mg,'momentum-arrow-red',d,1307,false,'#ff0000'));

/* ---------- axes ---------- */
const ax=$('layer-axes');
function axisText(name,x,y,str,fill,anchor){
  const t=add(ax,'text',name,{x:x,y:y+6,'class':'ax'});
  if(fill) t.setAttribute('style','fill:'+fill);
  if(anchor) t.setAttribute('text-anchor',anchor);
  t.textContent=str;
  return t;
}
function tick(y){ add(ax,'line','price-tick',{x1:2350,x2:2356,y1:y,y2:y,stroke:'#50535e','stroke-width':1.4}); }
priceTicks.forEach(p=>{ tick(yp(p)); axisText('price-tick-label',2362,yp(p)+1,p.toFixed(3)); });
tick(yv(1000)); axisText('volume-tick-label',2362,yv(1000)+1,'1000B');
tick(yv(0)); axisText('volume-tick-label',2362,yv(0)+1,'0');
tick(yo(100)); axisText('oscillator-tick-label',2362,yo(100)+1,'100.000');
tick(yo(0)); axisText('oscillator-tick-label',2362,yo(0)+1,'0.000');
tick(ym(250)); axisText('momentum-tick-label',2362,ym(250)+1,'250.000');
tick(ym(0)); axisText('momentum-tick-label',2362,ym(0)+1,'0.000');

const tagFill=['#000','#ff00ff','#4a86e8','#999','#ff00ff','#0000ff','#ff0000','#ef5350','#4a86e8','#8b0000','#000','#ff0000','#ff0000'];
const tagText=['#fff','#fff','#fff','#111','#fff','#fff','#fff','#fff','#fff','#fff','#fff','#fff','#fff'];
const tagShift=[0,0,0,4.5,0,0,0,0,8,0,0,19,31];
tagPrices.forEach((p,i)=>{
  const y=yp(p)+tagShift[i];
  add(ax,'rect','price-tag',{x:2350,y:y-15.5,width:74,height:31,fill:tagFill[i]});
  const t=axisText('price-tag-label',2362,y,p.toFixed(3),tagText[i]);
  t.setAttribute('stroke',tagText[i]);
  t.setAttribute('stroke-width','.3');
  tick(yp(p));
});
add(ax,'rect','countdown-tag',{x:2350,y:699,width:98,height:31,fill:'#ef5350'});
axisText('countdown-label',2358,714.5,'01:14:59','#fff');

timeTickDays.forEach(d=>add(ax,'line','time-tick',{x1:xd(d),x2:xd(d),y1:1397,y2:1403,stroke:'#50535e','stroke-width':1.4}));
dateLabelDays.forEach((d,i)=>axisText('time-tick-label',xd(d),1418,dateLabels[i],null,'middle'));
pillDays.forEach((d,i)=>{
  add(ax,'rect','time-pill',{x:xd(d)-49,y:1398,width:98,height:36,fill:'#a4c2f4'});
  axisText('time-pill-label',xd(d),1415,pillLabels[i],'#111','middle');
});
</script>
</body>
</html>
